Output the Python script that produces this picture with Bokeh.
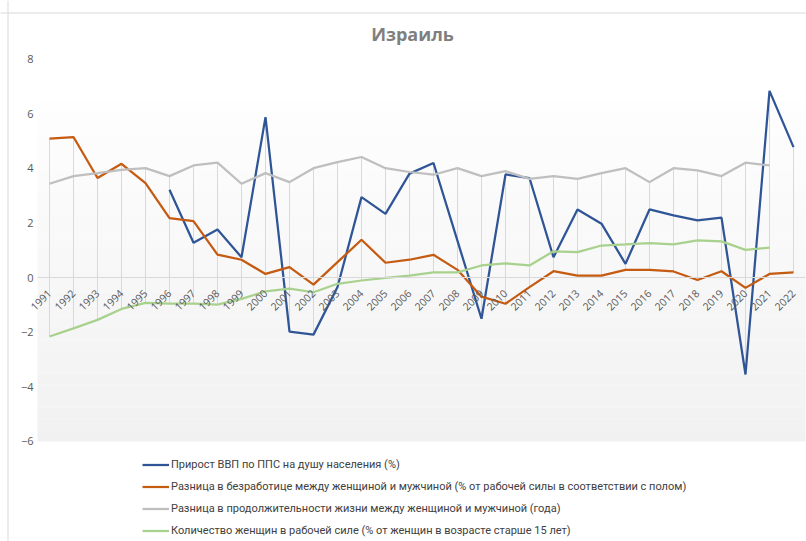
import numpy as np
from bokeh.plotting import figure
from bokeh.models import Range1d, FixedTicker, Legend, LegendItem, Label, BoxAnnotation, Span
from bokeh.embed import file_html
from bokeh.resources import INLINE

title_text = "Израиль"
years = list(range(1991, 2023))
gdp_years = list(range(1996, 2023))
gdp_growth = [3.21, 1.27, 1.76, 0.74, 5.87, -1.98, -2.09, -0.35, 2.94, 2.33,
              3.80, 4.19, 1.34, -1.51, 3.77, 3.64, 0.74, 2.49, 1.97, 0.50,
              2.49, 2.27, 2.09, 2.19, -3.55, 6.83, 4.77]
unemp_years = list(range(1991, 2023))
unemp_gap = [5.08, 5.14, 3.64, 4.16, 3.45, 2.17, 2.06, 0.84, 0.65, 0.13,
             0.38, -0.26, 0.56, 1.38, 0.54, 0.65, 0.83, 0.28, -0.70, -0.96,
             -0.35, 0.23, 0.07, 0.07, 0.28, 0.28, 0.22, -0.09, 0.23, -0.38,
             0.13, 0.19]
life_years = list(range(1991, 2022))
life_gap = [3.43, 3.71, 3.82, 3.94, 4.00, 3.71, 4.10, 4.20, 3.43, 3.82,
            3.49, 4.00, 4.22, 4.41, 4.00, 3.86, 3.76, 4.00, 3.71, 3.89,
            3.61, 3.71, 3.61, 3.82, 4.00, 3.49, 4.00, 3.92, 3.71, 4.20,
            4.10]
flf_years = list(range(1991, 2022))
female_lf = [-2.16, -1.86, -1.55, -1.15, -0.93, -0.96, -0.96, -0.99, -0.78, -0.51,
             -0.41, -0.54, -0.23, -0.11, -0.01, 0.07, 0.19, 0.19, 0.44, 0.52,
             0.44, 0.96, 0.93, 1.17, 1.21, 1.26, 1.21, 1.36, 1.32, 1.01,
             1.09]
y_ticks = [-6, -4, -2, 0, 2, 4, 6, 8]
labels = [
    "Прирост ВВП по ППС на душу населения (%)",
    "Разница в безработице между женщиной и мужчиной (% от рабочей силы в соответствии с полом)",
    "Разница в продолжительности жизни между женщиной и мужчиной (года)",
    "Количество женщин в рабочей силе (% от женщин в возрасте старше 15 лет)",
]
colors = ["#2F5597", "#C55A11", "#BFBFBF", "#A9D18E"]

FONT = "Open Sans"
LFONT = "Roboto"
W, H = 806, 541
PX_X = 24.0           # pixels per year
PX_Y = 27.33          # pixels per unit
X_LEFT_PAD = 37       # space for y labels (px)
Y0_PX = 277           # screen y of value 0 (from top)

x0 = 1990.5 - X_LEFT_PAD / PX_X
x1 = x0 + W / PX_X
y_top = Y0_PX / PX_Y
y_bot = -(H - Y0_PX) / PX_Y

p = figure(width=W, height=H, output_backend="svg", toolbar_location=None,
           x_range=Range1d(x0, x1), y_range=Range1d(y_bot, y_top),
           min_border=0)
p.outline_line_color = None
p.background_fill_color = "white"
p.border_fill_color = "white"
p.xgrid.visible = False
p.ygrid.visible = False

# chart border (decorative)
p.add_layout(Span(location=y_top - 12.5 / PX_Y, dimension="width", line_color="#D9D9D9", line_width=1))
p.add_layout(Span(location=x0 + 7.5 / PX_X, dimension="height", line_color="#D9D9D9", line_width=1))

# gradient plot-area background (decorative)
n_bands = 30
top_y, bot_y = 6.45, -6.0
for i in range(n_bands):
    t = top_y - (top_y - bot_y) * i / n_bands
    b = top_y - (top_y - bot_y) * (i + 1) / n_bands
    c = int(round(254 - 13 * (i + 0.5) / n_bands))
    p.add_layout(BoxAnnotation(top=t, bottom=b, left=1990.5, right=2022.5,
                               fill_color=(c, c, c), fill_alpha=1.0,
                               line_color=None, level="underlay"))

# high-low lines
series = {}
for yrs, vals in [(gdp_years, gdp_growth), (unemp_years, unemp_gap),
                  (life_years, life_gap), (flf_years, female_lf)]:
    for yr, v in zip(yrs, vals):
        series.setdefault(yr, []).append(v)
hl_x = sorted(series)
hl_hi = [max(series[x]) for x in hl_x]
hl_lo = [min(series[x]) for x in hl_x]
p.segment(x0=hl_x, y0=hl_lo, x1=hl_x, y1=hl_hi, line_color="#D9D9D9", line_width=1)

r_gdp = p.line(gdp_years, gdp_growth, line_color=colors[0], line_width=2.25)
r_un = p.line(unemp_years, unemp_gap, line_color=colors[1], line_width=2.25)
r_life = p.line(life_years, life_gap, line_color=colors[2], line_width=2.25)
r_flf = p.line(flf_years, female_lf, line_color=colors[3], line_width=2.25)

# x axis at zero
p.xaxis.ticker = FixedTicker(ticks=years)
p.xaxis.fixed_location = 0
p.xaxis.bounds = (1990.5, 2022.5)
p.xaxis.axis_line_color = "#D9D9D9"
p.xaxis.major_tick_line_color = None
p.xaxis.minor_tick_line_color = None
p.xaxis.major_label_orientation = np.pi / 4
p.xaxis.major_label_text_font = FONT
p.xaxis.major_label_text_font_size = "10.5px"
p.xaxis.major_label_text_color = "#595959"
p.xaxis.major_label_standoff = 8

# y axis at plot-area left edge
p.yaxis.ticker = FixedTicker(ticks=y_ticks)
p.yaxis.fixed_location = 1990.5
p.yaxis.axis_line_color = None
p.yaxis.major_tick_line_color = None
p.yaxis.minor_tick_line_color = None
p.yaxis.major_label_text_font = FONT
p.yaxis.major_label_text_font_size = "11px"
p.yaxis.major_label_text_color = "#595959"
p.yaxis.major_label_standoff = -2

# title
p.add_layout(Label(x=412, y=H - 33, x_units="screen", y_units="screen", text=title_text,
                   text_font=FONT, text_font_size="18px", text_font_style="bold",
                   text_color="#7F7F7F", text_align="center", text_baseline="middle"))

legend = Legend(items=[LegendItem(label=labels[0], renderers=[r_gdp]),
                       LegendItem(label=labels[1], renderers=[r_un]),
                       LegendItem(label=labels[2], renderers=[r_life]),
                       LegendItem(label=labels[3], renderers=[r_flf])],
                location=(142, 0), orientation="vertical",
                padding=0, margin=0, spacing=1, glyph_width=27, glyph_height=21,
                label_height=21, label_standoff=2, border_line_color=None,
                background_fill_alpha=0, label_text_font=LFONT,
                label_text_font_size="11px", label_text_color="#404040")
p.add_layout(legend, "center")

open("out.html", "w").write(file_html(p, INLINE))
